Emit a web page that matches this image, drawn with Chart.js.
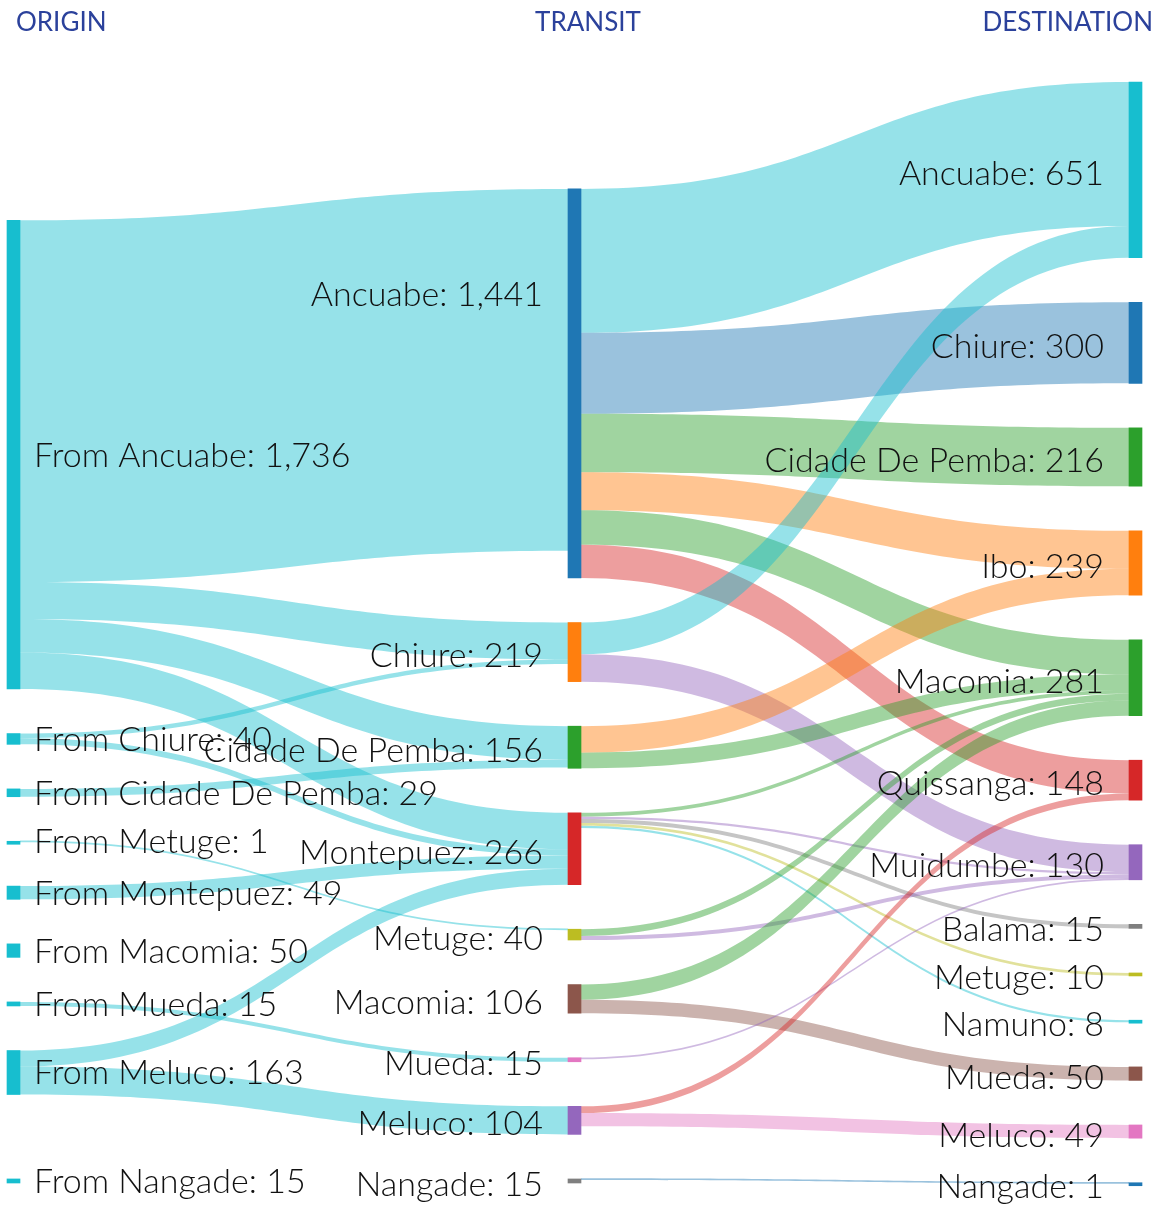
<!DOCTYPE html>
<html lang="en">
<head>
<meta charset="UTF-8">
<title>Origin - Transit - Destination</title>
<script src="https://cdn.jsdelivr.net/npm/chart.js"></script>
<style>
  html, body { margin: 0; padding: 0; background: #fff; }
  #wrap { position: relative; width: 1155px; height: 1208px; }
</style>
</head>
<body>
<div id="wrap"><canvas id="sankey"></canvas></div>
<script>
// column headers
const columnTitles = ['ORIGIN', 'TRANSIT', 'DESTINATION']

// nodes, per column, top to bottom
const originNodes = ['From Ancuabe', 'From Chiure', 'From Cidade De Pemba', 'From Metuge', 'From Montepuez',
  'From Macomia', 'From Mueda', 'From Meluco', 'From Nangade']
const transitNodes = ['Ancuabe', 'Chiure', 'Cidade De Pemba', 'Montepuez', 'Metuge', 'Macomia', 'Mueda', 'Meluco', 'Nangade']
const destNodes = ['Ancuabe', 'Chiure', 'Cidade De Pemba', 'Ibo', 'Macomia', 'Quissanga', 'Muidumbe', 'Balama',
  'Metuge', 'Namuno', 'Mueda', 'Meluco', 'Nangade']

// origin -> transit  [from, to, people]
const originFlows = [
  ['From Ancuabe', 'Ancuabe', 1340],
  ['From Ancuabe', 'Chiure', 137],
  ['From Ancuabe', 'Cidade De Pemba', 124],
  ['From Ancuabe', 'Montepuez', 135],
  ['From Chiure', 'Chiure', 17],
  ['From Chiure', 'Montepuez', 23],
  ['From Cidade De Pemba', 'Cidade De Pemba', 29],
  ['From Metuge', 'Metuge', 1],
  ['From Montepuez', 'Montepuez', 49],
  ['From Macomia', 'Macomia', 50],
  ['From Mueda', 'Mueda', 15],
  ['From Meluco', 'Montepuez', 59],
  ['From Meluco', 'Meluco', 104],
  ['From Nangade', 'Nangade', 15]
]

// transit -> destination  [from, to, people]
const transitFlows = [
  ['Ancuabe', 'Ancuabe', 533],
  ['Ancuabe', 'Chiure', 300],
  ['Ancuabe', 'Cidade De Pemba', 216],
  ['Ancuabe', 'Ibo', 141],
  ['Ancuabe', 'Macomia', 128],
  ['Ancuabe', 'Quissanga', 123],
  ['Chiure', 'Ancuabe', 118],
  ['Chiure', 'Muidumbe', 101],
  ['Cidade De Pemba', 'Ibo', 98],
  ['Cidade De Pemba', 'Macomia', 58],
  ['Montepuez', 'Macomia', 14],
  ['Montepuez', 'Muidumbe', 9],
  ['Montepuez', 'Balama', 15],
  ['Montepuez', 'Metuge', 10],
  ['Montepuez', 'Namuno', 8],
  ['Metuge', 'Macomia', 25],
  ['Metuge', 'Muidumbe', 15],
  ['Macomia', 'Macomia', 56],
  ['Macomia', 'Mueda', 50],
  ['Mueda', 'Muidumbe', 5],
  ['Meluco', 'Quissanga', 25],
  ['Meluco', 'Meluco', 49],
  ['Nangade', 'Nangade', 1]
]

// these origins have flows but they are not drawn in the original
const hiddenOrigins = ['From Macomia', 'From Nangade']

// d3 category colours
const originColors = Array(originNodes.length).fill('#17becf')
const transitColors = ['#1f77b4', '#ff7f0e', '#2ca02c', '#d62728', '#bcbd22', '#8c564b', '#e377c2', '#9467bd', '#7f7f7f']
const destColors = ['#17becf', '#1f77b4', '#2ca02c', '#ff7f0e', '#2ca02c', '#d62728', '#9467bd', '#7f7f7f',
  '#bcbd22', '#17becf', '#8c564b', '#e377c2', '#1f77b4']

const NODE_W = 13
const PAD = 165      // gap between nodes, in flow units
const ITERATIONS = 50
const LINK_ALPHA = 0.45
// the big transit label sits higher up in the original
const labelNudge = { 'Ancuabe: 1,441': -92 }

function rgba(hex, a) {
  const n = parseInt(hex.slice(1), 16)
  return `rgba(${n >> 16}, ${(n >> 8) & 255}, ${n & 255}, ${a})`
}
const sum = (arr, f) => arr.reduce((a, d) => a + f(d), 0)

// ---- build graph + layout (like d3-sankey, but nodes keep their order) ----
const nodes = []
;[[originNodes, originColors], [transitNodes, transitColors], [destNodes, destColors]].forEach(([names, colors], layer) => {
  names.forEach((name, i) => nodes.push({ name, layer, color: colors[i], sourceLinks: [], targetLinks: [] }))
})
const findNode = (layer, name) => nodes.find(n => n.layer === layer && n.name === name)

const links = []
originFlows.forEach(([s, t, v]) => links.push({ source: findNode(0, s), target: findNode(1, t), value: v, hidden: hiddenOrigins.includes(s) }))
transitFlows.forEach(([s, t, v]) => links.push({ source: findNode(1, s), target: findNode(2, t), value: v, hidden: false }))
links.forEach(l => {
  l.source.sourceLinks.push(l)
  l.target.targetLinks.push(l)
})
nodes.forEach(n => {
  n.value = Math.max(sum(n.sourceLinks, l => l.value), sum(n.targetLinks, l => l.value))
})

const columns = [0, 1, 2].map(c => nodes.filter(n => n.layer === c))
const extent = Math.max(...columns.map(c => sum(c, n => n.value) + (c.length - 1) * PAD))
const ky = Math.min(...columns.map(c => (extent - (c.length - 1) * PAD) / sum(c, n => n.value)))
const center = n => (n.y0 + n.y1) / 2

columns.forEach(col => col.forEach((n, i) => {
  n.y0 = i
  n.y1 = i + n.value * ky
}))

function resolveCollisions() {
  columns.forEach(col => {
    let y = 0, node, dy
    for (let i = 0; i < col.length; i++) {
      node = col[i]
      dy = y - node.y0
      if (dy > 0) { node.y0 += dy; node.y1 += dy }
      y = node.y1 + PAD
    }
    dy = y - PAD - extent
    if (dy > 0) {
      node.y0 -= dy; node.y1 -= dy
      y = node.y0
      for (let i = col.length - 2; i >= 0; i--) {
        node = col[i]
        dy = node.y1 + PAD - y
        if (dy > 0) { node.y0 -= dy; node.y1 -= dy }
        y = node.y0
      }
    }
  })
}
function relaxLeftToRight(alpha) {
  columns.forEach(col => col.forEach(n => {
    if (!n.targetLinks.length) return
    const dy = (sum(n.targetLinks, l => center(l.source) * l.value) / sum(n.targetLinks, l => l.value) - center(n)) * alpha
    n.y0 += dy; n.y1 += dy
  }))
}
function relaxRightToLeft(alpha) {
  columns.slice().reverse().forEach(col => col.forEach(n => {
    if (!n.sourceLinks.length) return
    const dy = (sum(n.sourceLinks, l => center(l.target) * l.value) / sum(n.sourceLinks, l => l.value) - center(n)) * alpha
    n.y0 += dy; n.y1 += dy
  }))
}

resolveCollisions()
let alpha = 1
for (let k = ITERATIONS; k > 0; k--) {
  alpha *= 0.99
  relaxRightToLeft(alpha)
  resolveCollisions()
  relaxLeftToRight(alpha)
  resolveCollisions()
}

nodes.forEach(n => {
  n.sourceLinks.sort((a, b) => a.target.y0 - b.target.y0)
  n.targetLinks.sort((a, b) => a.source.y0 - b.source.y0)
})
nodes.forEach(n => {
  let y = n.y0
  n.sourceLinks.forEach(l => { l.sy = y; y += l.value * ky })
  y = n.y0
  n.targetLinks.forEach(l => { l.ty = y; y += l.value * ky })
})

// ---- drawing ----
const linkPlugin = {
  id: 'sankeyLinks',
  beforeDatasetsDraw(chart) {
    const { ctx, scales: { x, y } } = chart
    ctx.save()
    links.forEach(l => {
      if (l.hidden) return
      const x0 = x.getPixelForValue(l.source.layer) + NODE_W / 2
      const x1 = x.getPixelForValue(l.target.layer) - NODE_W / 2
      let s0 = y.getPixelForValue(l.sy), s1 = y.getPixelForValue(l.sy + l.value * ky)
      let t0 = y.getPixelForValue(l.ty), t1 = y.getPixelForValue(l.ty + l.value * ky)
      if (s1 - s0 < 1.6) {
        const cs = (s0 + s1) / 2, ct = (t0 + t1) / 2
        s0 = cs - 0.8; s1 = cs + 0.8; t0 = ct - 0.8; t1 = ct + 0.8
      }
      const xm = (x0 + x1) / 2
      ctx.beginPath()
      ctx.moveTo(x0, s0)
      ctx.bezierCurveTo(xm, s0, xm, t0, x1, t0)
      ctx.lineTo(x1, t1)
      ctx.bezierCurveTo(xm, t1, xm, s1, x0, s1)
      ctx.closePath()
      ctx.fillStyle = rgba(l.source.layer === 0 ? l.source.color : l.target.color, LINK_ALPHA)
      ctx.fill()
    })
    ctx.restore()
  }
}

const labelPlugin = {
  id: 'sankeyLabels',
  afterDatasetsDraw(chart) {
    const { ctx, scales: { x, y } } = chart
    ctx.save()
    ctx.fillStyle = '#111'
    ctx.font = '300 34px Lato'
    ctx.textBaseline = 'middle'
    nodes.forEach(n => {
      const cy = (y.getPixelForValue(n.y0) + y.getPixelForValue(n.y1)) / 2
      const px = x.getPixelForValue(n.layer)
      const text = n.name + ': ' + n.value.toLocaleString('en-US')
      const dy = labelNudge[text] || 0
      if (n.layer === 0) {
        ctx.textAlign = 'left'
        ctx.fillText(text, px + NODE_W / 2 + 14, cy + 1 + dy)
      } else {
        ctx.textAlign = 'right'
        ctx.fillText(text, px - NODE_W / 2 - 25, cy + 4 + dy)
      }
    })
    // column headers
    ctx.font = '26px Lato'
    ctx.fillStyle = '#2b419b'
    ctx.textBaseline = 'alphabetic'
    ctx.textAlign = 'left'
    ctx.fillText(columnTitles[0], 16, 31)
    ctx.textAlign = 'center'
    ctx.fillText(columnTitles[1], 588, 31)
    ctx.textAlign = 'right'
    ctx.fillText(columnTitles[2], 1153, 31)
    ctx.restore()
  }
}

new Chart(document.getElementById('sankey'), {
  type: 'bar',
  data: {
    datasets: [{
      data: nodes.map(n => ({ x: n.layer, y: [n.y0, n.y1] })),
      backgroundColor: nodes.map(n => n.color),
      barThickness: NODE_W,
      minBarLength: 3,
      borderWidth: 0,
      clip: false
    }]
  },
  options: {
    responsive: true,
    maintainAspectRatio: false,
    animation: false,
    layout: { padding: { left: 13.5, right: 19.5, top: 82, bottom: 25 } },
    scales: {
      x: { type: 'linear', min: 0, max: 2, offset: false, display: false },
      y: { type: 'linear', min: 0, max: extent, reverse: true, display: false }
    },
    plugins: {
      legend: { display: false },
      tooltip: { enabled: false }
    }
  },
  plugins: [linkPlugin, labelPlugin]
})
</script>
</body>
</html>
